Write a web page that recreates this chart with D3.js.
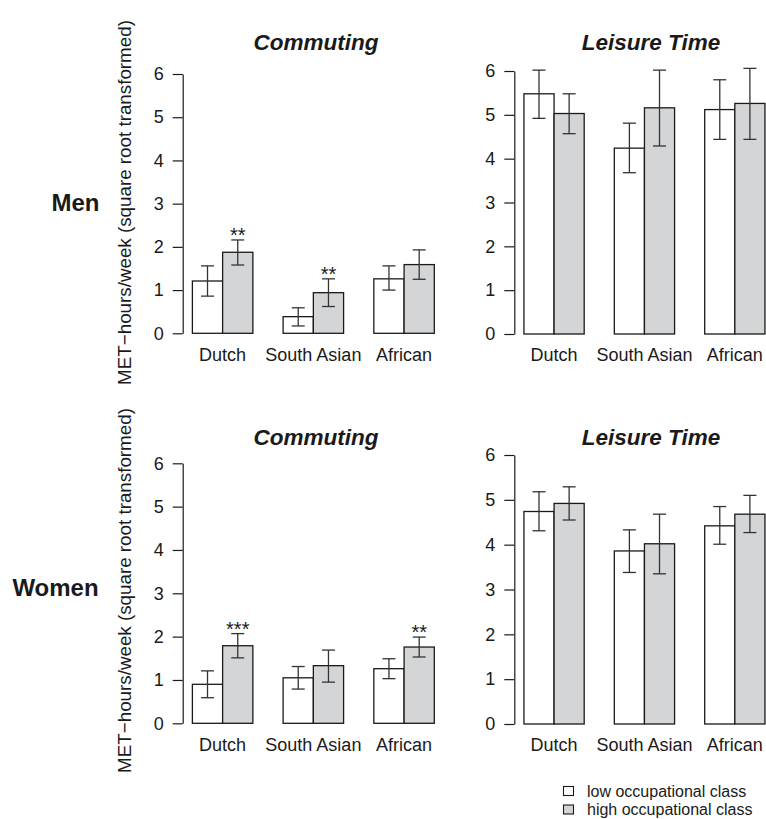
<!DOCTYPE html>
<html>
<head>
<meta charset="utf-8">
<script src="https://cdn.jsdelivr.net/npm/d3@7"></script>
<style>
html,body{margin:0;padding:0;background:#fff;}
svg{display:block;}
text{font-family:"Liberation Sans",Arial,Helvetica,sans-serif;fill:#1a1a1a;}
</style>
</head>
<body>
<svg id="chart" width="766" height="819"></svg>
<script>
// ---------- data ----------
const categories = ["Dutch", "South Asian", "African"];
const classes = ["low occupational class", "high occupational class"];
const yTicks = [0, 1, 2, 3, 4, 5, 6];
const rowLabels = ["Men", "Women"];
const panelTitles = ["Commuting", "Leisure Time"];
const yLabel = "MET\u2212hours/week (square root transformed)";

// values per category: [low, high]
const menCommutingMean  = [[1.21, 1.875], [0.385, 0.94], [1.26, 1.59]];
const menCommutingLower = [[0.86, 1.58], [0.17, 0.62], [1.00, 1.25]];
const menCommutingUpper = [[1.56, 2.16], [0.59, 1.26], [1.56, 1.93]];
const menCommutingSig   = ["**", "**", ""];

const menLeisureMean  = [[5.48, 5.03], [4.24, 5.16], [5.12, 5.26]];
const menLeisureLower = [[4.92, 4.57], [3.68, 4.29], [4.44, 4.44]];
const menLeisureUpper = [[6.02, 5.48], [4.81, 6.02], [5.80, 6.06]];
const menLeisureSig   = ["", "", ""];

const womenCommutingMean  = [[0.90, 1.79], [1.05, 1.33], [1.26, 1.76]];
const womenCommutingLower = [[0.59, 1.51], [0.79, 0.95], [1.03, 1.53]];
const womenCommutingUpper = [[1.21, 2.07], [1.31, 1.69], [1.49, 1.99]];
const womenCommutingSig   = ["***", "", "**"];

const womenLeisureMean  = [[4.74, 4.92], [3.86, 4.02], [4.42, 4.68]];
const womenLeisureLower = [[4.31, 4.55], [3.38, 3.35], [4.01, 4.27]];
const womenLeisureUpper = [[5.18, 5.29], [4.33, 4.68], [4.85, 5.10]];
const womenLeisureSig   = ["", "", ""];

// ---------- layout ----------
const fillColors = ["#ffffff", "#d4d5d7"];
const ink = "#1a1a1a";
const panels = [
  {mean: menCommutingMean, lower: menCommutingLower, upper: menCommutingUpper, sig: menCommutingSig,
   x: [182.7, 444], y: [333.3, 74], title: panelTitles[0], titleX: 316, titleY: 42},
  {mean: menLeisureMean, lower: menLeisureLower, upper: menLeisureUpper, sig: menLeisureSig,
   x: [514.3, 774.6], y: [334, 71], title: panelTitles[1], titleX: 651, titleY: 42},
  {mean: womenCommutingMean, lower: womenCommutingLower, upper: womenCommutingUpper, sig: womenCommutingSig,
   x: [182.7, 444], y: [723.3, 463.3], title: panelTitles[0], titleX: 316, titleY: 437},
  {mean: womenLeisureMean, lower: womenLeisureLower, upper: womenLeisureUpper, sig: womenLeisureSig,
   x: [514.3, 774.6], y: [724, 455], title: panelTitles[1], titleX: 651, titleY: 437}
];

const svg = d3.select("#chart");

panels.forEach(p => {
  const g = svg.append("g");
  const x0 = d3.scaleBand().domain(categories).range(p.x)
    .paddingInner(1 / 3).paddingOuter(0.1067);
  const x1 = d3.scaleBand().domain(classes).range([0, x0.bandwidth()]).padding(0);
  const y = d3.scaleLinear().domain([0, 6]).range(p.y);

  // y axis
  const ax = g.append("g").attr("transform", `translate(${p.x[0]},0)`)
    .call(d3.axisLeft(y).tickValues(yTicks).tickSize(10).tickSizeOuter(0).tickPadding(9)
      .tickFormat(d3.format("d")));
  ax.selectAll("path,line").attr("stroke", ink).attr("stroke-width", 1.2);
  ax.selectAll("text").attr("font-size", 18).attr("fill", ink)
    .attr("font-family", "'Liberation Sans',Arial,sans-serif");

  // x labels
  const bx = g.append("g").attr("transform", `translate(0,${p.y[0]})`)
    .call(d3.axisBottom(x0).tickSize(0).tickPadding(14.5));
  bx.select(".domain").remove();
  bx.selectAll("text").attr("font-size", 18).attr("fill", ink)
    .attr("font-family", "'Liberation Sans',Arial,sans-serif");

  // bars
  categories.forEach((c, ci) => {
    classes.forEach((k, ki) => {
      const v = p.mean[ci][ki];
      const bx0 = x0(c) + x1(k);
      const w = x1.bandwidth();
      g.append("rect")
        .attr("x", bx0).attr("y", y(v))
        .attr("width", w).attr("height", y(0) - y(v))
        .attr("fill", fillColors[ki]).attr("stroke", ink).attr("stroke-width", 1.3);
      const cx = bx0 + w / 2;
      const lo = p.lower[ci][ki], hi = p.upper[ci][ki];
      const cap = 6.5;
      g.append("line").attr("x1", cx).attr("x2", cx).attr("y1", y(lo)).attr("y2", y(hi))
        .attr("stroke", "#333").attr("stroke-width", 1.3);
      [lo, hi].forEach(e => {
        g.append("line").attr("x1", cx - cap).attr("x2", cx + cap).attr("y1", y(e)).attr("y2", y(e))
          .attr("stroke", "#333").attr("stroke-width", 1.3);
      });
    });
    if (p.sig[ci]) {
      const k = classes[1];
      const cx = x0(c) + x1(k) + x1.bandwidth() / 2;
      g.append("text").attr("x", cx).attr("y", y(p.upper[ci][1]) + 2)
        .attr("text-anchor", "middle").attr("font-size", 20).attr("fill", ink)
        .text(p.sig[ci]);
    }
  });

  // title
  g.append("text").attr("x", p.titleX)
    .attr("y", p.titleY).attr("dy", "0.35em")
    .attr("text-anchor", "middle").attr("font-size", 22.5)
    .attr("font-weight", "bold").attr("font-style", "italic").attr("fill", ink)
    .text(p.title);
});

// row labels
const rowPos = [{x: 75.5, y: 203}, {x: 55.5, y: 588}];
rowLabels.forEach((r, i) => {
  svg.append("text").attr("x", rowPos[i].x).attr("y", rowPos[i].y).attr("dy", "0.35em")
    .attr("text-anchor", "middle").attr("font-size", 24).attr("font-weight", "bold")
    .attr("fill", ink).text(r);
});

// y axis labels
[202.5, 590.5].forEach(cy => {
  svg.append("text").attr("transform", `translate(124,${cy}) rotate(-90)`)
    .attr("dy", "0.35em").attr("text-anchor", "middle").attr("font-size", 18.8)
    .attr("fill", ink).text(yLabel);
});

// legend
const legendY = [791, 809.5];
classes.forEach((k, i) => {
  svg.append("rect").attr("x", 563.5).attr("y", legendY[i] - 4.5).attr("width", 10).attr("height", 9)
    .attr("fill", fillColors[i]).attr("stroke", ink).attr("stroke-width", 1.1);
  svg.append("text").attr("x", 587).attr("y", legendY[i]).attr("dy", "0.35em")
    .attr("font-size", 16).attr("fill", ink).text(k);
});
</script>
</body>
</html>
